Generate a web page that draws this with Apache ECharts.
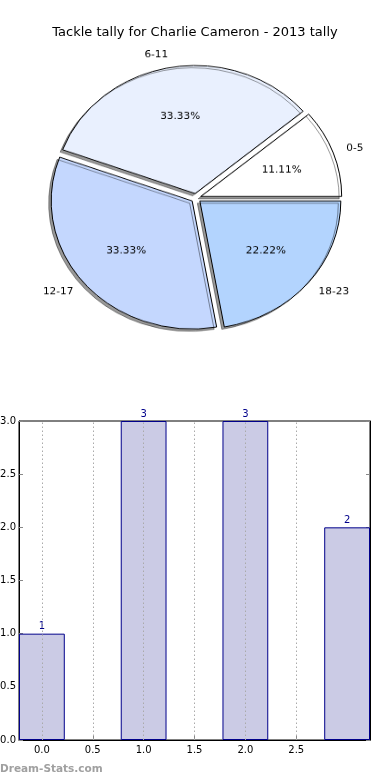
<!DOCTYPE html>
<html><head><meta charset="utf-8">
<script src="https://cdn.jsdelivr.net/npm/echarts@6/dist/echarts.min.js"></script>
<style>
html,body{margin:0;padding:0;background:#fff;}
#main{position:absolute;left:0;top:0;width:390px;height:780px;}
#pie{position:absolute;left:0;top:0;width:390px;height:400px;transform:scaleY(0.908);transform-origin:196px 198px;pointer-events:none;}
</style></head>
<body>
<div id="main"></div>
<div id="pie"></div>
<script>
// ---- data ----
const titleText = 'Tackle tally for Charlie Cameron - 2013 tally';
const categories = ['0-5', '6-11', '12-17', '18-23'];
const tallyCounts = [1, 3, 3, 2];
const barPositions = [0, 1, 2, 3];
const xTickValues = [0, 0.5, 1.0, 1.5, 2.0, 2.5];
const pieColors = ['#ffffff', '#e9f0fe', '#c4d7fe', '#b3d4fe'];
const watermark = 'Dream-Stats.com';

const FONT = 'DejaVu Sans';
const total = tallyCounts.reduce((a, b) => a + b, 0);

// ---- bar chart ----
const gridLeft = 19, gridRight = 20, gridTop = 421, gridBottom = 40;
const xMin = -0.225, xMax = 3.225;
const plotW = 390 - gridLeft - gridRight;
const barW = plotW / (xMax - xMin) * 0.45;

const main = echarts.init(document.getElementById('main'), null, {renderer: 'canvas'});
main.setOption({
  animation: false,
  title: {text: titleText, left: 'center', top: 21,
    textStyle: {fontFamily: FONT, fontSize: 13, fontWeight: 'normal', color: '#000'}},
  grid: {left: gridLeft, right: gridRight, top: gridTop, bottom: gridBottom,
    containLabel: false, outerBoundsMode: 'none',
    show: true, borderColor: '#000', borderWidth: 1, backgroundColor: 'transparent'},
  xAxis: [{
    type: 'value', min: xMin, max: xMax,
    axisLine: {show: true, onZero: false, lineStyle: {color: '#000', width: 1}},
    axisTick: {show: true, inside: true, length: 4, customValues: xTickValues, lineStyle: {color: '#888'}},
    axisLabel: {customValues: xTickValues, formatter: v => v.toFixed(1), margin: 5,
      fontFamily: FONT, fontSize: 10, color: '#000'},
    splitLine: {show: false}
  }],
  yAxis: [{
    type: 'value', min: 0, max: 3, interval: 0.5, position: 'left',
    axisLine: {show: true, onZero: false, lineStyle: {color: '#000', width: 1}},
    axisTick: {show: true, inside: true, length: 4, lineStyle: {color: '#888'}},
    axisLabel: {formatter: v => v.toFixed(1), margin: 3, fontFamily: FONT, fontSize: 10, color: '#000'},
    splitLine: {show: false}
  }, {
    type: 'value', min: 0, max: 3, interval: 0.5, position: 'right',
    axisLine: {show: true, onZero: false, lineStyle: {color: '#000', width: 1}},
    axisTick: {show: true, inside: true, length: 4, lineStyle: {color: '#888'}},
    axisLabel: {show: false}, splitLine: {show: false}
  }],
  series: [{
    type: 'bar',
    barWidth: barW,
    data: barPositions.map((x, i) => [x, tallyCounts[i]]),
    itemStyle: {color: '#cbcbe5', borderColor: '#00008b', borderWidth: 1},
    label: {show: true, position: 'top', distance: 2, formatter: p => String(p.value[1]),
      fontFamily: FONT, fontSize: 10, color: '#00008b'},
    markLine: {
      silent: true, symbol: 'none', label: {show: false},
      lineStyle: {type: [1.5, 2.5], color: '#aaaaaa', width: 1},
      data: xTickValues.map(v => ({xAxis: v}))
    },
    z: 2
  }],
  graphic: [{
    type: 'text', left: 0, top: 764,
    style: {text: watermark, font: 'bold 10.5px "DejaVu Sans"', fill: '#a0a0a0'}
  }]
});

// ---- pie chart ----
const pie = echarts.init(document.getElementById('pie'), null, {renderer: 'canvas'});
const R = 141;
const pieData = categories.map((c, i) => ({
  name: c, value: tallyCounts[i], selected: true,
  itemStyle: {color: pieColors[i]}
}));
pie.setOption({
  animation: false,
  series: [{
    type: 'pie', center: [196, 198], radius: [0, R],
    startAngle: 0, clockwise: false,
    selectedMode: 'multiple', selectedOffset: 5,
    avoidLabelOverlap: false,
    itemStyle: {borderColor: '#000', borderWidth: 1,
      shadowColor: 'rgba(0,0,0,0.4)', shadowBlur: 0, shadowOffsetX: -2.5, shadowOffsetY: 2.5},
    label: {show: true, position: 'outside', distanceToLabelLine: 0,
      formatter: '{b}', fontFamily: FONT, fontSize: 10.5, color: '#000'},
    labelLine: {show: false, length: 14, length2: 0},
    emphasis: {disabled: true},
    select: {itemStyle: {borderColor: '#000', borderWidth: 1}},
    data: pieData
  }, {
    type: 'pie', center: [196, 198], radius: [0, R * 1.18],
    startAngle: 0, clockwise: false, silent: true,
    selectedMode: 'multiple', selectedOffset: 5,
    avoidLabelOverlap: false,
    itemStyle: {color: 'transparent', borderWidth: 0},
    label: {show: true, position: 'inside',
      formatter: p => (p.value / total * 100).toFixed(2) + '%',
      fontFamily: FONT, fontSize: 10.5, color: '#000'},
    labelLine: {show: false},
    emphasis: {disabled: true},
    select: {itemStyle: {color: 'transparent', borderWidth: 0}},
    data: categories.map((c, i) => ({name: c, value: tallyCounts[i], selected: true}))
  }]
});
</script>
</body></html>
